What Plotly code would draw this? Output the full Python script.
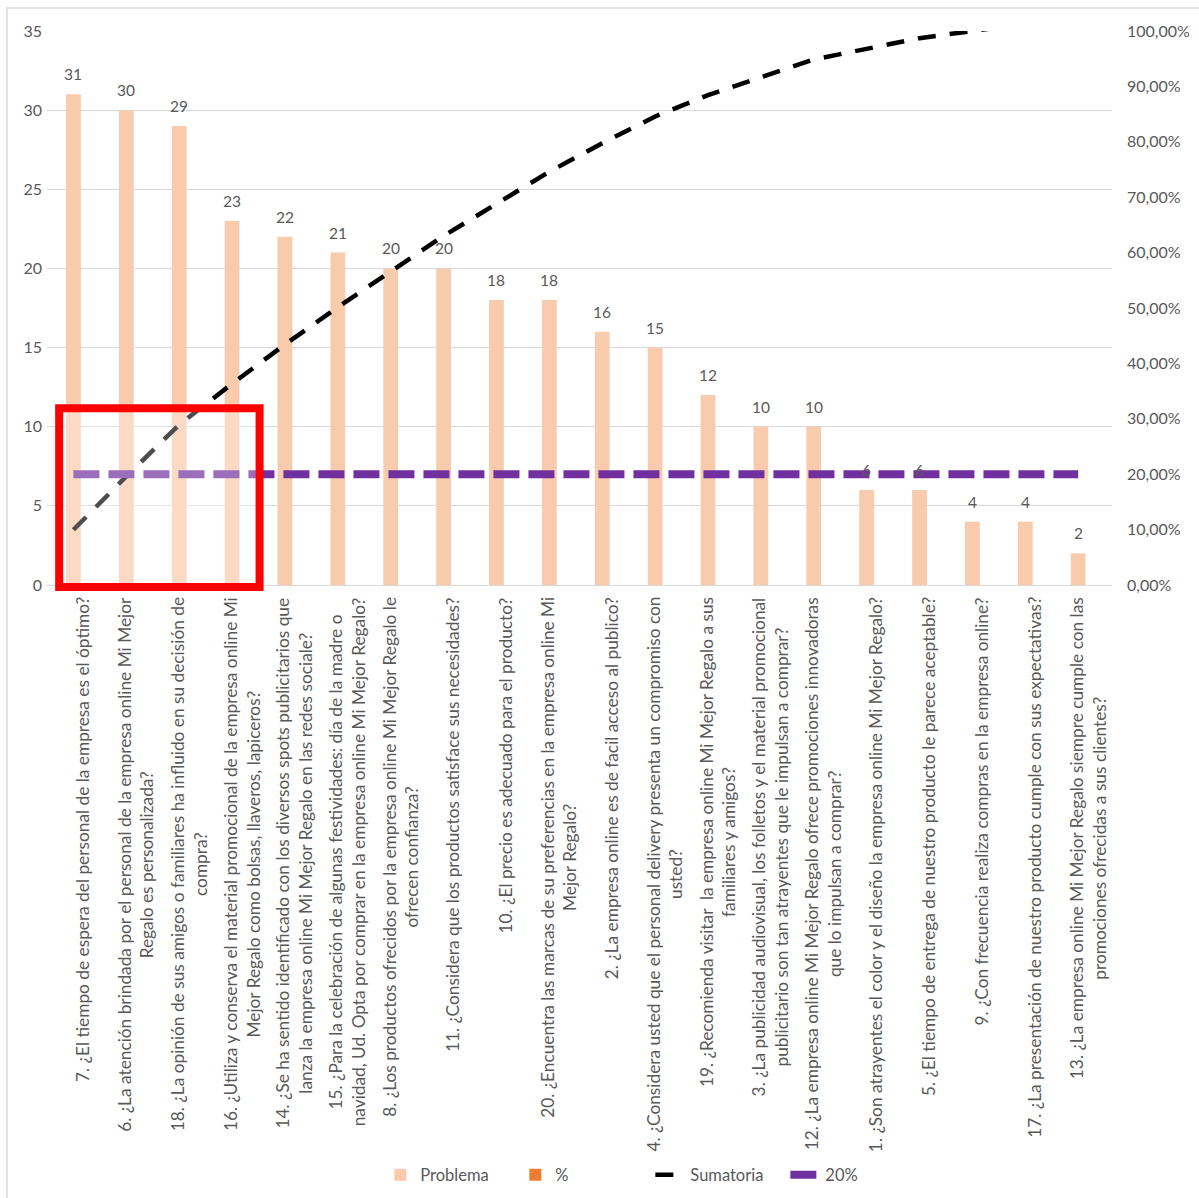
import plotly.graph_objects as go

# Pareto de problemas percibidos por los clientes
categorias = [
    "7. ¿El tiempo de espera del personal de la empresa es el óptimo?",
    "6. ¿La atención brindada por el personal de la empresa online Mi Mejor<br>Regalo es personalizada?",
    "18. ¿La opinión de sus amigos o familiares ha influido en su decisión de<br>compra?",
    "16. ¿Utiliza y conserva el material promocional de la empresa online Mi<br>Mejor Regalo como bolsas, llaveros, lapiceros?",
    "14. ¿Se ha sentido identificado con los diversos spots publicitarios que<br>lanza la empresa online Mi Mejor Regalo en las redes sociale?",
    "15. ¿Para la celebración de algunas festividades: día de la madre o<br>navidad, Ud. Opta por comprar en la empresa online Mi Mejor Regalo?",
    "8. ¿Los productos ofrecidos por la empresa online Mi Mejor Regalo le<br>ofrecen confianza?",
    "11. ¿Considera que los productos satisface sus necesidades?",
    "10. ¿El precio es adecuado para el producto?",
    "20. ¿Encuentra las marcas de su preferencias en la empresa online Mi<br>Mejor Regalo?",
    "2. ¿La empresa online es de facil acceso al publico?",
    "4. ¿Considera usted que el personal delivery presenta un compromiso con<br>usted?",
    "19. ¿Recomienda visitar  la empresa online Mi Mejor Regalo a sus<br>familiares y amigos?",
    "3. ¿La publicidad audiovisual, los folletos y el material promocional<br>publicitario son tan atrayentes que le impulsan a comprar?",
    "12. ¿La empresa online Mi Mejor Regalo ofrece promociones innovadoras<br>que lo impulsan a comprar?",
    "1. ¿Son atrayentes el color y el diseño la empresa online Mi Mejor Regalo?",
    "5. ¿El tiempo de entrega de nuestro producto le parece aceptable?",
    "9. ¿Con frecuencia realiza compras en la empresa online?",
    "17. ¿La presentación de nuestro producto cumple con sus expectativas?",
    "13. ¿La empresa online Mi Mejor Regalo siempre cumple con las<br>promociones ofrecidas a sus clientes?",
]
problema = [31, 30, 29, 23, 22, 21, 20, 20, 18, 18, 16, 15, 12, 10, 10, 6, 6, 4, 4, 2]
porcentaje = [0] * 20
sumatoria = [0.0997, 0.1961, 0.2894, 0.3633, 0.4341, 0.5016, 0.5659, 0.6302, 0.6881, 0.7460,
             0.7974, 0.8457, 0.8842, 0.9164, 0.9486, 0.9678, 0.9871, 1.0000, 1.0129, 1.0193]
linea_20 = [0.20] * 20

# highlighted group: first four questions
resaltado_x = [-0.27, 3.52]
resaltado_y = [-0.13, 11.17]

x_range = [-0.5, 19.64]
y_range = [0, 35]

FONT = "Lato, 'Open Sans', sans-serif"
GRIS = "#595959"

idx = list(range(len(categorias)))

fig = go.Figure()
fig.add_trace(go.Bar(x=idx, y=problema, name="Problema", marker=dict(color="#F8CBAD", line=dict(width=0)),
                     width=0.28, yaxis="y"))
fig.add_trace(go.Bar(x=idx, y=porcentaje, name="%", marker=dict(color="#ED7D31", line=dict(width=0)),
                     width=0.28, yaxis="y2"))
fig.add_trace(go.Scatter(x=idx, y=sumatoria, name="Sumatoria", mode="lines", yaxis="y2",
                         line=dict(color="#000000", width=4.5, dash="18px,14px")))
fig.add_trace(go.Scatter(x=idx, y=linea_20, name="20%", mode="lines", yaxis="y2",
                         line=dict(color="#7030A0", width=8, dash="26px,9px")))

annotations = []
# value labels above bars
for i, v in zip(idx, problema):
    annotations.append(dict(x=i, y=v, xref="x", yref="y", text=str(v), showarrow=False,
                            yanchor="middle", yshift=20, font=dict(family=FONT, size=15.5, color=GRIS)))
# rotated category labels under the axis
for i, c in zip(idx, categorias):
    annotations.append(dict(x=i, y=0, xref="x", yref="paper", text=c, showarrow=False,
                            textangle=-90, yanchor="top", xanchor="center", align="center",
                            yshift=-10, xshift=9, font=dict(family=FONT, size=17.3, color=GRIS)))


def px_x(v):
    return (v - x_range[0]) / (x_range[1] - x_range[0])


def px_y(v):
    return (v - y_range[0]) / (y_range[1] - y_range[0])


shapes = [
    # chart border
    dict(type="rect", xref="paper", yref="paper", x0=-0.0376, x1=1.09, y0=-1.12, y1=1.0415,
         line=dict(color="#D9D9D9", width=1.5), fillcolor="rgba(0,0,0,0)", layer="below"),
    # highlight box
    dict(type="rect", xref="paper", yref="paper",
         x0=px_x(resaltado_x[0]), x1=px_x(resaltado_x[1]),
         y0=px_y(resaltado_y[0]), y1=px_y(resaltado_y[1]),
         line=dict(color="#FF0000", width=8), fillcolor="rgba(255,255,255,0.3)", layer="above"),
]

fig.update_layout(
    width=1199, height=1198,
    margin=dict(l=47, r=87, t=31, b=613, autoexpand=False),
    paper_bgcolor="white", plot_bgcolor="white",
    separators=",.",
    barmode="overlay",
    font=dict(family=FONT, size=15, color=GRIS),
    xaxis=dict(range=x_range, showticklabels=False, showgrid=False, zeroline=False,
               showline=False, ticks=""),
    yaxis=dict(range=y_range, dtick=5, showgrid=True, gridcolor="#D9D9D9", gridwidth=1,
               zeroline=True, zerolinecolor="#D9D9D9", zerolinewidth=1,
               tickfont=dict(family=FONT, size=16, color=GRIS), ticks="", ticklabelstandoff=4),
    yaxis2=dict(range=[0, 1], dtick=0.1, tickformat=".2%", overlaying="y", side="right",
                showgrid=False, zeroline=False, tickfont=dict(family=FONT, size=16, color=GRIS),
                ticks="", ticklabelstandoff=14),
    showlegend=True,
    legend=dict(orientation="h", x=0.313, xanchor="left", y=-1.065, yanchor="middle",
                font=dict(family=FONT, size=16.5, color=GRIS), traceorder="normal",
                entrywidth=90, entrywidthmode="pixels", bgcolor="rgba(0,0,0,0)"),
    annotations=annotations,
    shapes=shapes,
)

fig.write_html("out.html")
